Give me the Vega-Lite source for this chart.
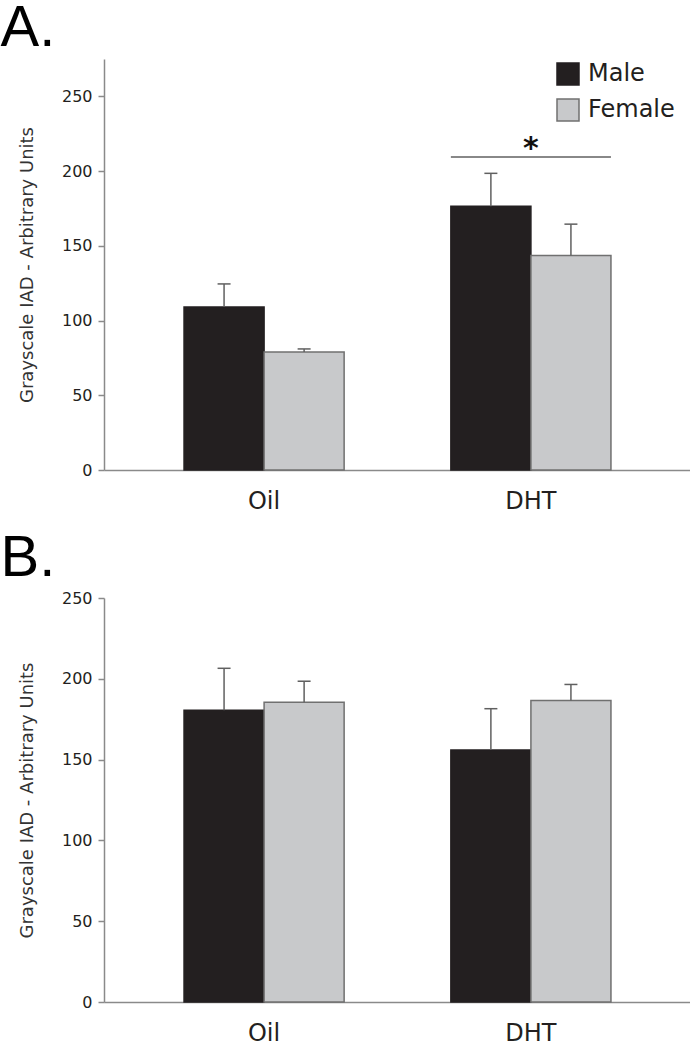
{
  "$schema": "https://vega.github.io/schema/vega-lite/v6.json",
  "padding": 0,
  "background": "white",
  "config": {
    "view": {"stroke": null},
    "axis": {"grid": false, "labelFont": "DejaVu Sans", "titleFont": "DejaVu Sans", "labelColor": "#231f20", "titleColor": "#333333", "domainColor": "#8a8a8a", "domainWidth": 1.5, "tickColor": "#8a8a8a", "tickWidth": 1.5}
  },
  "datasets": {
    "a": [
      {"Group": "Oil", "Sex": "Male", "value": 109, "upper": 124.5},
      {"Group": "Oil", "Sex": "Female", "value": 79, "upper": 81},
      {"Group": "DHT", "Sex": "Male", "value": 176.5, "upper": 198.5},
      {"Group": "DHT", "Sex": "Female", "value": 143.5, "upper": 164.5}
    ],
    "b": [
      {"Group": "Oil", "Sex": "Male", "value": 180.5, "upper": 206.5},
      {"Group": "Oil", "Sex": "Female", "value": 185.5, "upper": 198.5},
      {"Group": "DHT", "Sex": "Male", "value": 156, "upper": 181.5},
      {"Group": "DHT", "Sex": "Female", "value": 186.5, "upper": 196.5}
    ],
    "sig": [
      {"Group": "DHT", "line": 209.5, "star": 208.5, "label": "*"}
    ]
  },
  "resolve": {"scale": {"color": "independent", "stroke": "independent", "x": "independent", "y": "independent"}, "legend": {"color": "independent"}},
  "spacing": 17,
  "vconcat": [
    {
      "title": {"text": "A.", "anchor": "start", "frame": "bounds", "font": "Liberation Sans", "fontSize": 58, "fontWeight": "normal", "color": "#000000", "baseline": "bottom", "offset": -57, "dx": -18},
      "width": 587,
      "height": 411,
      "data": {"name": "a"},
      "layer": [
        {
          "mark": {"type": "bar", "strokeWidth": 1.5},
          "encoding": {
            "x": {"field": "Group", "type": "nominal", "sort": ["Oil", "DHT"], "scale": {"domain": ["Oil", "DHT"], "paddingInner": 0.4, "paddingOuter": 0.3}, "axis": {"title": null, "labelAngle": 0, "ticks": false, "labelFontSize": 24, "labelPadding": 19}},
            "xOffset": {"field": "Sex", "type": "nominal", "scale": {"domain": ["Male", "Female"], "paddingInner": 0, "paddingOuter": 0}},
            "y": {"field": "value", "type": "quantitative", "scale": {"domain": [0, 275], "nice": false}, "axis": {"values": [0, 50, 100, 150, 200, 250], "title": "Grayscale IAD - Arbitrary Units", "titleFontSize": 18, "titleFontWeight": "normal", "titlePadding": 25, "labelFontSize": 16, "labelPadding": 6, "tickSize": 6}},
            "color": {"field": "Sex", "type": "nominal", "scale": {"domain": ["Male", "Female"], "range": ["#231f20", "#c8c9cb"]}, "legend": {"orient": "none", "legendX": 452, "legendY": 3, "title": null, "symbolType": "square", "symbolSize": 484, "symbolStrokeColor": "#333333", "symbolStrokeWidth": 1.5, "symbolOpacity": 1, "labelFont": "DejaVu Sans", "labelFontSize": 24, "labelColor": "#231f20", "labelOffset": 8, "rowPadding": 8, "padding": 0}},
            "stroke": {"field": "Sex", "type": "nominal", "scale": {"domain": ["Male", "Female"], "range": ["#231f20", "#707070"]}, "legend": null}
          }
        },
        {
          "mark": {"type": "rule", "color": "#606060", "strokeWidth": 1.5},
          "encoding": {
            "x": {"field": "Group", "type": "nominal"},
            "xOffset": {"field": "Sex", "type": "nominal"},
            "y": {"field": "value", "type": "quantitative"},
            "y2": {"field": "upper"}
          }
        },
        {
          "mark": {"type": "tick", "color": "#606060", "thickness": 1.5, "size": 13, "opacity": 1},
          "encoding": {
            "x": {"field": "Group", "type": "nominal"},
            "xOffset": {"field": "Sex", "type": "nominal"},
            "y": {"field": "upper", "type": "quantitative"}
          }
        },
        {
          "data": {"name": "sig"},
          "mark": {"type": "rule", "color": "#606060", "strokeWidth": 1.5},
          "encoding": {
            "x": {"field": "Group", "type": "nominal", "bandPosition": 0},
            "x2": {"field": "Group", "bandPosition": 1},
            "y": {"field": "line", "type": "quantitative"}
          }
        },
        {
          "data": {"name": "sig"},
          "mark": {"type": "text", "font": "DejaVu Sans", "fontSize": 30, "fontWeight": "bold", "color": "#111111", "baseline": "alphabetic", "align": "center"},
          "encoding": {
            "x": {"field": "Group", "type": "nominal"},
            "y": {"field": "star", "type": "quantitative"},
            "text": {"field": "label"}
          }
        }
      ]
    },
    {
      "title": {"text": "B.", "anchor": "start", "frame": "bounds", "font": "Liberation Sans", "fontSize": 58, "fontWeight": "normal", "color": "#000000", "baseline": "bottom", "offset": -56, "dx": -18},
      "width": 587,
      "height": 404,
      "data": {"name": "b"},
      "layer": [
        {
          "mark": {"type": "bar", "strokeWidth": 1.5},
          "encoding": {
            "x": {"field": "Group", "type": "nominal", "sort": ["Oil", "DHT"], "scale": {"domain": ["Oil", "DHT"], "paddingInner": 0.4, "paddingOuter": 0.3}, "axis": {"title": null, "labelAngle": 0, "ticks": false, "labelFontSize": 24, "labelPadding": 19}},
            "xOffset": {"field": "Sex", "type": "nominal", "scale": {"domain": ["Male", "Female"], "paddingInner": 0, "paddingOuter": 0}},
            "y": {"field": "value", "type": "quantitative", "scale": {"domain": [0, 250], "nice": false}, "axis": {"values": [0, 50, 100, 150, 200, 250], "title": "Grayscale IAD - Arbitrary Units", "titleFontSize": 18, "titleFontWeight": "normal", "titlePadding": 25, "labelFontSize": 16, "labelPadding": 6, "tickSize": 6}},
            "color": {"field": "Sex", "type": "nominal", "scale": {"domain": ["Male", "Female"], "range": ["#231f20", "#c8c9cb"]}, "legend": null},
            "stroke": {"field": "Sex", "type": "nominal", "scale": {"domain": ["Male", "Female"], "range": ["#231f20", "#707070"]}, "legend": null}
          }
        },
        {
          "mark": {"type": "rule", "color": "#606060", "strokeWidth": 1.5},
          "encoding": {
            "x": {"field": "Group", "type": "nominal"},
            "xOffset": {"field": "Sex", "type": "nominal"},
            "y": {"field": "value", "type": "quantitative"},
            "y2": {"field": "upper"}
          }
        },
        {
          "mark": {"type": "tick", "color": "#606060", "thickness": 1.5, "size": 13, "opacity": 1},
          "encoding": {
            "x": {"field": "Group", "type": "nominal"},
            "xOffset": {"field": "Sex", "type": "nominal"},
            "y": {"field": "upper", "type": "quantitative"}
          }
        }
      ]
    }
  ]
}
